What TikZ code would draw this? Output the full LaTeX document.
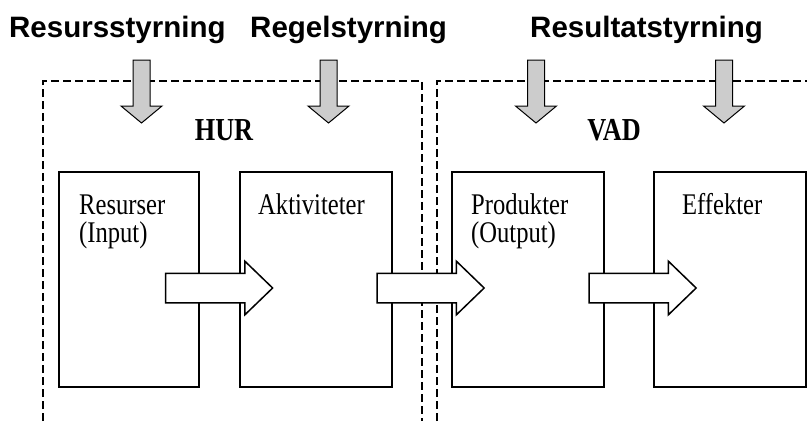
\documentclass[tikz,border=0pt]{standalone}
\usepackage{fontspec}
\setmainfont{Liberation Serif}
\newfontfamily\titlefont{Liberation Sans}
\newfontfamily\boxfont[FakeStretch=0.82]{Liberation Serif}
\usetikzlibrary{shapes.arrows}
\definecolor{arrgray}{HTML}{CCCCCC}
\tikzset{
  dashbox/.style={line width=2.4pt, dash pattern=on 8pt off 4pt},
  grayarr/.style={draw=black, line width=1pt, fill=arrgray, line join=miter},
  procbox/.style={draw=black, line width=1.3pt, fill=white, inner sep=0pt},
  blockarr/.style={single arrow, draw=black, fill=white, line width=1.5pt, inner sep=0pt,
    minimum height=107pt, text height=28pt, text depth=0pt, text width=0pt,
    single arrow head extend=12pt, single arrow tip angle=88},
  titletext/.style={anchor=base west, inner sep=0pt, font=\titlefont\bfseries\fontsize{29.5}{30}\selectfont},
  boxtext/.style={anchor=base west, inner sep=0pt, align=left, font=\boxfont\fontsize{30}{28}\selectfont},
  regiontext/.style={anchor=base, inner sep=0pt, font=\boxfont\bfseries\fontsize{32}{32}\selectfont}
}
\begin{document}
\begin{tikzpicture}[x=1pt,y=-1pt]
\useasboundingbox (0,0) rectangle (807,421);
% dashed regions
\draw[dashbox] (43,421) -- (43,81) -- (422,81) -- (422,421);
\draw[dashbox] (437,421) -- (437,81) -- (807,81);
% gray control arrows
\foreach \c in {141.5,328.5,536,724}{
  \draw[grayarr] (\c-8.5,60) -- (\c+8.5,60) -- (\c+8.5,106) -- (\c+20.5,106) -- (\c,123)
    -- (\c-20.5,106) -- (\c-8.5,106) -- cycle;
}
% titles
\node[titletext] (t1) at (9,37) {Resursstyrning};
\node[titletext] (t2) at (250,37) {Regelstyrning};
\node[titletext] (t3) at (530,37) {Resultatstyrning};
% region labels
\node[regiontext] (hur) at (224,140) {HUR};
\node[regiontext] (vad) at (614,140) {VAD};
% process boxes
\node[procbox, minimum width=140pt, minimum height=215pt] (b1) at (129,279.5) {};
\node[procbox, minimum width=152pt, minimum height=215pt] (b2) at (316,279.5) {};
\node[procbox, minimum width=152pt, minimum height=215pt] (b3) at (528,279.5) {};
\node[procbox, minimum width=152pt, minimum height=215pt] (b4) at (730,279.5) {};
% block arrows between boxes
\node[blockarr] (a1) at (211.5,288) {};
\node[blockarr] (a2) at (423,288) {};
\node[blockarr] (a3) at (635,288) {};
% box texts
\node[boxtext] (l1) at (79,242) {Resurser\\(Input)};
\node[boxtext] (l2) at (258,214) {Aktiviteter};
\node[boxtext] (l3) at (471,242) {Produkter\\(Output)};
\node[boxtext] (l4) at (682,214) {Effekter};
\end{tikzpicture}
\end{document}
